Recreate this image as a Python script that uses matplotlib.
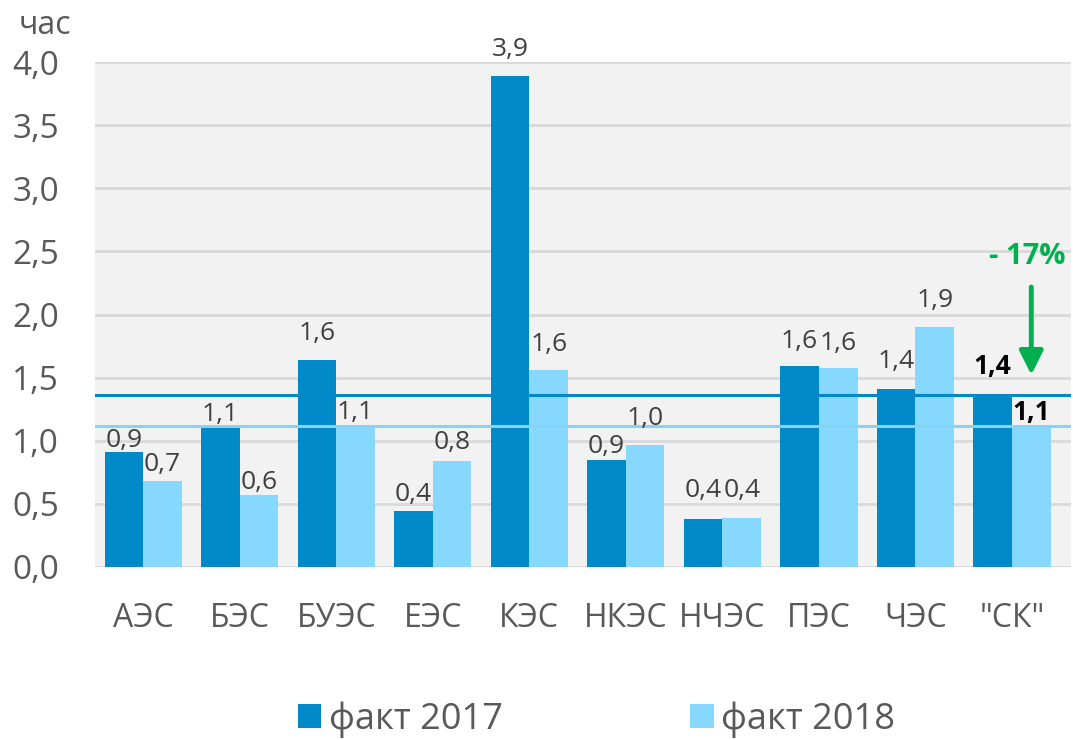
import numpy as np
import matplotlib.pyplot as plt

plt.rcParams["font.family"] = ["Open Sans", "DejaVu Sans"]

# Data
categories = ["АЭС", "БЭС", "БУЭС", "ЕЭС", "КЭС", "НКЭС", "НЧЭС", "ПЭС", "ЧЭС", "\"СК\""]
fact_2017 = [0.91, 1.10, 1.64, 0.44, 3.89, 0.85, 0.38, 1.59, 1.41, 1.36]
fact_2018 = [0.68, 0.57, 1.11, 0.84, 1.56, 0.97, 0.39, 1.58, 1.90, 1.12]
labels_2017 = ["0,9", "1,1", "1,6", "0,4", "3,9", "0,9", "0,4", "1,6", "1,4", "1,4"]
labels_2018 = ["0,7", "0,6", "1,1", "0,8", "1,6", "1,0", "0,4", "1,6", "1,9", "1,1"]
avg_2017 = 1.36
avg_2018 = 1.12
change_text = "- 17%"
y_ticks = [0.0, 0.5, 1.0, 1.5, 2.0, 2.5, 3.0, 3.5, 4.0]

# label gaps above bar tops (pixels), as placed in the reference
gap_2017 = [5, 7, 20, 10, 20, 7, 22, 18, 21, 21]
gap_2018 = [10, 6, 8, 12, 19, 20, 21, 18, 20, 6]

dark = "#0089C8"
light = "#87D8FF"
text_gray = "#595959"

fig = plt.figure(figsize=(10.73, 7.40), dpi=100)
ax = fig.add_axes([0.0885, 0.2338, 0.9095, 0.6824])
ax.set_facecolor("#F2F2F2")

x = np.arange(len(categories))
w = 0.4
b1 = ax.bar(x - w / 2, fact_2017, w, color=dark, label="факт 2017", zorder=3)
b2 = ax.bar(x + w / 2, fact_2018, w, color=light, label="факт 2018", zorder=3)

ax.axhline(avg_2017, color="#0088C8", lw=2.2, zorder=4)
ax.axhline(avg_2018, color="#87D3F5", lw=2.2, zorder=4)

n = len(categories)
for i in range(n):
    bold = i == n - 1
    for xi, val, lab, gap in (
        (x[i] - w / 2, fact_2017[i], labels_2017[i], gap_2017[i]),
        (x[i] + w / 2, fact_2018[i], labels_2018[i], gap_2018[i]),
    ):
        ax.annotate(
            lab,
            (xi, val),
            xytext=(0, gap * 0.72),
            textcoords="offset points",
            ha="center",
            va="baseline",
            fontsize=19,
            color="black" if bold else "#404040",
            fontweight="bold" if bold else "normal",
            zorder=6,
        )

# change annotation
ax.annotate(
    "",
    xy=(n - 1 + 0.2, 1.50),
    xytext=(n - 1 + 0.2, 2.24),
    arrowprops=dict(arrowstyle="-|>", color="#00B050", lw=3.5, mutation_scale=36),
    zorder=6,
)
ax.text(n - 1 + 0.16, 2.46, change_text, color="#00B050", fontsize=21,
        fontweight="bold", ha="center", va="center", zorder=6)

ax.set_xlim(-0.5, n - 0.39)
ax.set_ylim(0, 4.0)
ax.set_yticks(y_ticks, [f"{t:.1f}".replace(".", ",") for t in y_ticks])
ax.set_xticks(x, categories)
ax.tick_params(axis="y", length=0, pad=26, labelsize=24, labelcolor=text_gray)
ax.tick_params(axis="x", length=0, pad=25, labelsize=23, labelcolor=text_gray)
ax.grid(axis="y", color="#D9D9D9", lw=2, zorder=0)
for s in ax.spines.values():
    s.set_visible(False)

fig.text(0.017, 0.965, "час", fontsize=23, color=text_gray, va="center", ha="left")

ax.legend(
    loc="center",
    bbox_to_anchor=(0.514, -0.302),
    ncol=2,
    frameon=False,
    fontsize=26,
    handlelength=0.65,
    handleheight=0.65,
    handletextpad=0.2,
    columnspacing=5.2,
    labelcolor=text_gray,
)

fig.savefig("out.png", dpi=100)
